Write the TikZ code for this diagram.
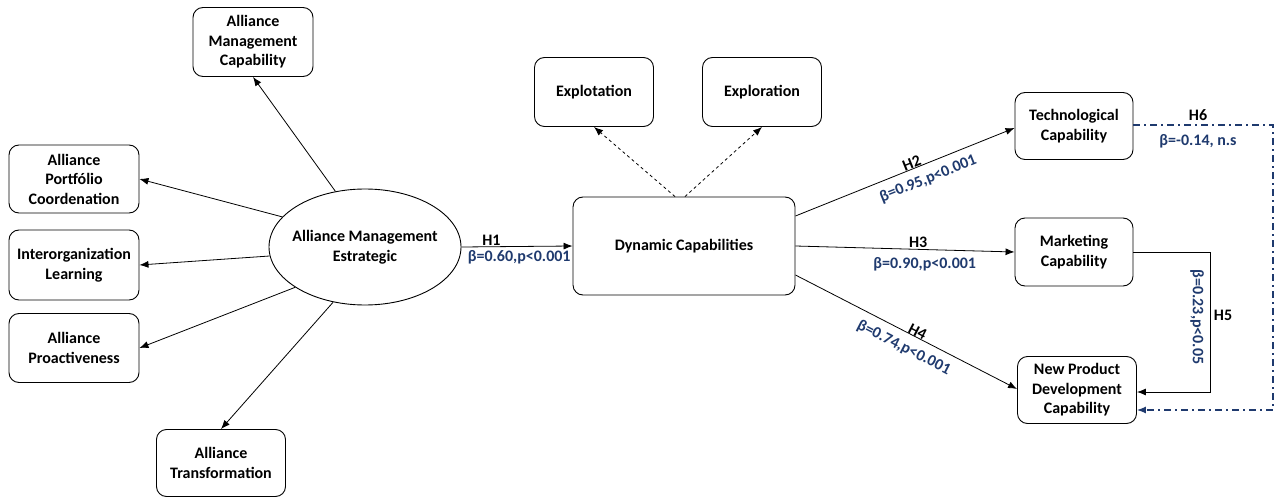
\documentclass[tikz,border=0pt]{standalone}
\usepackage{fontspec}
\setmainfont{Carlito}
\usetikzlibrary{arrows.meta,shapes.geometric,calc}
\definecolor{navy}{HTML}{1F3A6E}
\tikzset{
  box/.style={draw, rounded corners=10pt, line width=0.9pt, align=center, font=\bfseries\fontsize{16}{19.5}\selectfont, inner sep=0pt},
  arr/.style={line width=0.8pt, -{Latex[length=9pt,width=7pt]}},
  lab/.style={font=\bfseries\fontsize{16}{19.5}\selectfont, inner sep=0pt},
  blab/.style={lab, text=navy},
}
\begin{document}
\begin{tikzpicture}[x=1pt,y=-1pt]
\useasboundingbox (0,0) rectangle (1276,497);
% boxes
\node[box, minimum width=120pt, minimum height=69pt] (amc) at (253,42) {Alliance\\Management\\Capability};
\node[box, minimum width=130pt, minimum height=68pt] (apc) at (74,179) {Alliance\\Portfólio\\Coordenation};
\node[box, minimum width=130pt, minimum height=70pt] (il) at (74,265) {Interorganization\\Learning};
\node[box, minimum width=130pt, minimum height=69pt] (ap) at (74,348) {Alliance\\Proactiveness};
\node[box, minimum width=129pt, minimum height=67pt] (at) at (221,463) {Alliance\\Transformation};
\node[draw, ellipse, line width=0.9pt, minimum width=192pt, minimum height=116pt, align=center, font=\bfseries\fontsize{16}{19.5}\selectfont, inner xsep=-10pt, inner ysep=0pt] (ame) at (365,247) {Alliance Management\\Estrategic};
\node[box, minimum width=222pt, minimum height=98pt] (dc) at (684,246) {Dynamic Capabilities};
\node[box, minimum width=119pt, minimum height=69pt] (expt) at (594,92) {Explotation};
\node[box, minimum width=119pt, minimum height=69pt] (expr) at (762,92) {Exploration};
\node[box, minimum width=118pt, minimum height=67pt] (tc) at (1074,126) {Technological\\Capability};
\node[box, minimum width=118pt, minimum height=68pt] (mc) at (1074,252) {Marketing\\Capability};
\node[box, minimum width=119pt, minimum height=67pt] (npd) at (1077,390) {New Product\\Development\\Capability};
% ellipse arrows
\draw[arr] (ame.118) -- (amc.south);
\draw[arr] (ame.160) -- (apc.east);
\draw[arr] ($(ame.west)+(1,9)$) -- (il.east);
\draw[arr] (ame.-150) -- (ap.east);
\draw[arr] (ame.-120) -- (at.north);
% H1
\draw[arr] (ame.east) -- (dc.west) node[pos=0.27, above=1pt, lab] {H1} node[pos=0.52, below=4pt, blab] {β=0.60,p<0.001};
% dashed
\draw[arr, dashed] ([xshift=-9pt]dc.north) -- (expt.south);
\draw[arr, dashed] ([xshift=1pt]dc.north) -- (expr.south);
% H2 H3 H4
\draw[arr] ([yshift=30pt]dc.east) -- ([yshift=-2pt]tc.west)
  node[pos=0.54, above=0pt, sloped, lab] {H2} node[pos=0.58, below=8pt, sloped, blab] {β=0.95,p<0.001};
\draw[arr] (dc.east) -- (mc.west)
  node[pos=0.56, above=1pt, lab] {H3} node[pos=0.59, below=8pt, blab] {β=0.90,p<0.001};
\draw[arr] ([yshift=-29pt]dc.east) -- ([yshift=1pt]npd.west)
  node[pos=0.54, above=0pt, sloped, lab] {H4} node[pos=0.52, below=8pt, sloped, blab] {β=0.74,p<0.001};
% H5
\coordinate (h5a) at (1210,252);
\coordinate (h5b) at (1210,392);
\draw[arr] (mc.east) -- (h5a) -- (h5b) -- ([yshift=-2pt]npd.east);
\node[lab] (h5) at (1223,315) {H5};
\node[blab, rotate=-90] (b5) at (1197,317) {β=0.23,p<0.05};
% H6
\coordinate (h6a) at (1273,125);
\coordinate (h6b) at (1273,410);
\draw[arr, navy, dash pattern=on 7pt off 4pt on 2pt off 4pt, line width=1.2pt] ([yshift=1pt]tc.east) -- (h6a) -- (h6b) -- (npd.east |- h6b);
\node[lab] (h6) at (1198,115) {H6};
\node[blab] (b6) at (1198,141) {β=-0.14, n.s};
\end{tikzpicture}
\end{document}
